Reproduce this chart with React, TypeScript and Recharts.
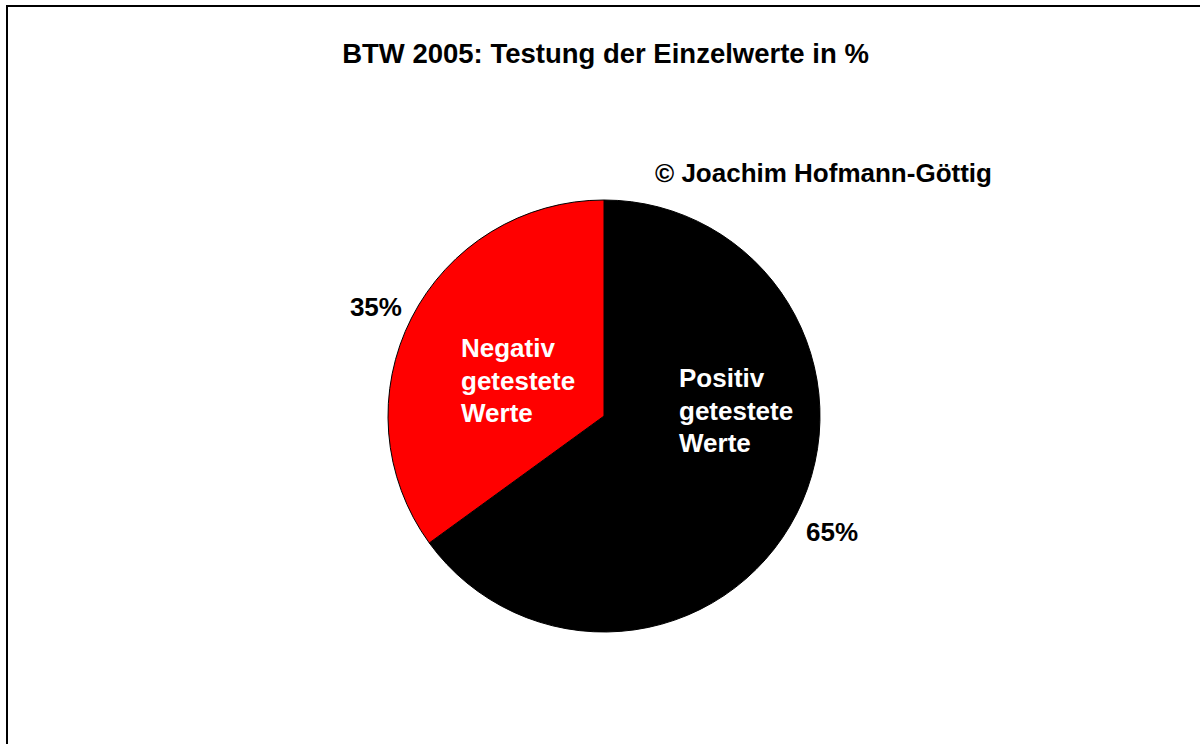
import { PieChart, Pie, Cell } from "recharts"

const sliceNames = ["Positiv getestete Werte", "Negativ getestete Werte"]
const sliceLines = [
  ["Positiv", "getestete", "Werte"],
  ["Negativ", "getestete", "Werte"],
]
const sliceValues = [65, 35]
const sliceColors = ["#000000", "#ff0000"]

const title = "BTW 2005: Testung der Einzelwerte in %"
const credit = "© Joachim Hofmann-Göttig"

const data = sliceNames.map((name, i) => ({ name, value: sliceValues[i] }))

const FONT = '"Liberation Sans", Arial, sans-serif'
const RAD = Math.PI / 180

// where the name block sits, relative to the pie centre (Excel put them by hand)
const innerOffset = [
  { dx: 75, dy: -29 },
  { dx: -143, dy: -59 },
]
// small nudge of the percent labels
const pctNudge = [0, 7]

function renderLabel(props: any) {
  const { cx, cy, midAngle, outerRadius, percent, index } = props
  const r = outerRadius + 40
  const x = cx + r * Math.cos(-midAngle * RAD)
  const y = cy + r * Math.sin(-midAngle * RAD)
  const off = innerOffset[index]
  return (
    <g key={`lbl-${index}`}>
      <text
        x={x}
        y={y + 9 + pctNudge[index]}
        textAnchor="middle"
        fill="#000"
        fontFamily={FONT}
        fontWeight="bold"
        fontSize={26}
      >
        {`${Math.round(percent * 100)}%`}
      </text>
      {sliceLines[index].map((line, j) => (
        <text
          key={j}
          x={cx + off.dx}
          y={cy + off.dy + j * 32.5}
          textAnchor="start"
          fill="#fff"
          fontFamily={FONT}
          fontWeight="bold"
          fontSize={26}
        >
          {line}
        </text>
      ))}
    </g>
  )
}

export default function App() {
  return (
    <div
      style={{
        position: "absolute",
        left: 0,
        top: 0,
        width: 1200,
        height: 744,
        overflow: "hidden",
        background: "#fff",
      }}
    >
      <div
        style={{
          position: "absolute",
          left: 6,
          top: 5,
          width: 1400,
          height: 1000,
          border: "2px solid #000",
        }}
      />
      <div style={{ position: "absolute", left: 0, top: 0 }}>
        <PieChart width={1200} height={744} margin={{ top: 0, right: 0, bottom: 0, left: 0 }}>
          <text
            x={605.5}
            y={63}
            textAnchor="middle"
            fill="#000"
            fontFamily={FONT}
            fontWeight="bold"
            fontSize={27.5}
          >
            {title}
          </text>
          <text
            x={655}
            y={182}
            textAnchor="start"
            fill="#000"
            fontFamily={FONT}
            fontWeight="bold"
            fontSize={26}
          >
            {credit}
          </text>
          <Pie
            data={data}
            dataKey="value"
            nameKey="name"
            cx={604}
            cy={416}
            outerRadius={216}
            startAngle={90}
            endAngle={-270}
            stroke="#000"
            strokeWidth={1}
            label={renderLabel}
            labelLine={false}
            isAnimationActive={false}
          >
            {data.map((d, i) => (
              <Cell key={d.name} fill={sliceColors[i]} />
            ))}
          </Pie>
        </PieChart>
      </div>
    </div>
  )
}
